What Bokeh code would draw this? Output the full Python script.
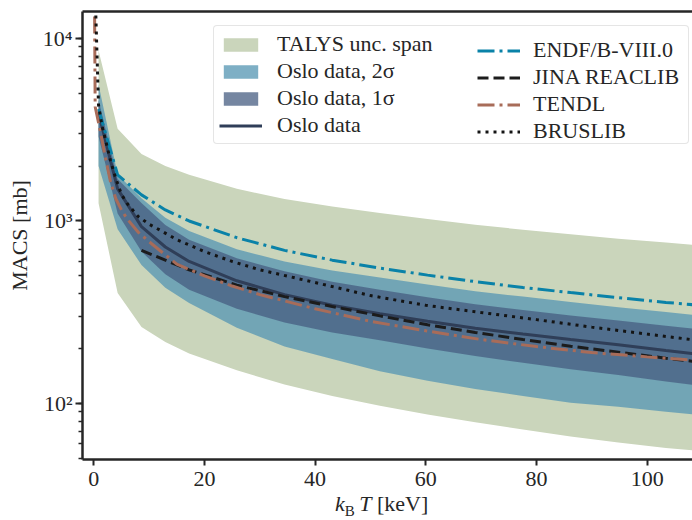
from bokeh.plotting import figure
from bokeh.layouts import column
from bokeh.models import (Range1d, FixedTicker, LinearAxis, Legend, LegendItem, Div)
from bokeh.embed import file_html
from bokeh.resources import INLINE

# Temperature grid (kT in keV, T9 = 0.01 ... 1.3)
kT = [0.862, 4.31, 8.62, 12.93, 17.23, 25.85, 34.47, 43.09, 51.70, 60.32,
      68.94, 77.56, 86.17, 94.79, 103.4, 112.0]

# TALYS uncertainty span [mb]
talys_hi = [8600, 3200, 2330, 2000, 1790, 1500, 1320, 1200, 1105, 1025, 955, 895, 845, 800, 762, 725]
talys_lo = [1250, 403, 262, 217, 188, 152, 127, 110, 97, 87, 79, 72, 66, 61, 57, 54]

# Oslo data with 1 and 2 sigma bands [mb]
oslo = [3900, 1500, 931, 720, 600, 470, 395, 345, 310, 282, 258, 240, 224, 210, 195, 182]
oslo_1s_hi = [4600, 1700, 1255, 950, 790, 625, 530, 465, 420, 382, 350, 325, 303, 285, 267, 250]
oslo_1s_lo = [2900, 1100, 680, 510, 420, 330, 278, 245, 222, 200, 182, 167, 154, 143, 132, 122]
oslo_2s_hi = [5600, 1800, 1331, 1040, 880, 700, 600, 535, 490, 448, 412, 385, 360, 337, 317, 297]
oslo_2s_lo = [2000, 900, 574, 430, 355, 260, 205, 175, 150, 133, 120, 110, 101, 96, 90, 85]

# Evaluated libraries [mb]
endf = [4100, 1790, 1390, 1150, 1000, 810, 690, 610, 552, 505, 465, 432, 405, 380, 358, 340]

jina_kT = kT[2:]
jina = [690, 610, 540, 445, 385, 340, 302, 270, 245, 224, 206, 191, 177, 165]

tendl_kT = [0.01, 0.25, 1, 2, 3, 4, 5, 6, 8, 10, 15, 20, 25, 30, 40, 50, 60, 70, 80, 90, 100, 110]
tendl = [60000, 4230, 3300, 2300, 1650, 1320, 1150, 1030, 870, 770, 580, 500, 440, 395, 330,
         282, 250, 224, 205, 190, 180, 171]

brus_kT = [0.2, 0.85, 1.5, 2, 3, 4, 5, 6, 8, 10, 12, 15, 20, 25, 30, 40, 50, 60, 70, 80, 90, 100, 110]
brus = [20000, 4330, 3300, 2880, 2150, 1700, 1400, 1250, 1060, 960, 890, 790, 680, 600, 540,
        460, 390, 345, 315, 288, 262, 240, 220]

SERIF = "Liberation Serif"
INK = "#262626"
LABEL_H = 27  # height of the strip holding the x-axis title

p = figure(width=692, height=520 - LABEL_H, x_range=Range1d(-2.04, 108.2),
           y_range=Range1d(49.3, 14060),
           y_axis_type="log", output_backend="svg", toolbar_location=None,
           min_border_left=82, min_border_right=0, min_border_top=11,
           min_border_bottom=34, margin=(0, 0, 0, 0))
p.outline_line_color = None
p.xgrid.visible = False
p.ygrid.visible = False
p.background_fill_color = "white"
p.border_fill_color = "white"

r_talys = p.varea(x=kT, y1=talys_lo, y2=talys_hi, fill_color="#cad5bb", fill_alpha=1.0)
r_2s = p.varea(x=kT, y1=oslo_2s_lo, y2=oslo_2s_hi, fill_color="#5797b4", fill_alpha=0.77)
r_1s = p.varea(x=kT, y1=oslo_1s_lo, y2=oslo_1s_hi, fill_color="#475d82", fill_alpha=0.75)
r_oslo = p.line(kT, oslo, line_color="#2f3e58", line_width=3)
r_endf = p.line(kT, endf, line_color="#0a82a8", line_width=3, line_dash="17 5 3 5")
r_jina = p.line(jina_kT, jina, line_color="#1c1c1c", line_width=3, line_dash="11 5")
r_tendl = p.line(tendl_kT, tendl, line_color="#a86c59", line_width=3, line_dash="17 5 3 5")
r_brus = p.line(brus_kT, brus, line_color="#141414", line_width=3, line_dash="3 5")

# axes
for ax in (p.xaxis[0], p.yaxis[0]):
    ax.axis_line_color = INK
    ax.axis_line_width = 2.5
    ax.major_tick_line_color = INK
    ax.major_tick_line_width = 2
    ax.major_tick_in = 0
    ax.minor_tick_in = 0
    ax.major_label_text_font = SERIF
    ax.major_label_text_font_size = "22px"
    ax.major_label_text_color = INK

p.xaxis.ticker = FixedTicker(ticks=[0, 20, 40, 60, 80, 100])
p.xaxis.major_tick_out = 6
p.xaxis.minor_tick_line_color = None
p.xaxis.major_label_standoff = 6

p.yaxis.major_tick_out = 7
p.yaxis.minor_tick_out = 4
p.yaxis.minor_tick_line_color = INK
p.yaxis.minor_tick_line_width = 1.5
p.yaxis.major_label_standoff = 3
p.yaxis.major_label_overrides = {100: "10²", 1000: "10³", 10000: "10⁴"}
p.yaxis.axis_label = "MACS [mb]"
p.yaxis.axis_label_text_font = SERIF
p.yaxis.axis_label_text_font_size = "22px"
p.yaxis.axis_label_text_font_style = "normal"
p.yaxis.axis_label_text_color = INK
p.yaxis.axis_label_standoff = 8

# top spine
top = LinearAxis(ticker=FixedTicker(ticks=[]), major_label_text_font_size="0px",
                 axis_line_color=INK, axis_line_width=2.5,
                 major_tick_line_color=None, minor_tick_line_color=None)
p.add_layout(top, "above")

# legend, two columns
common = dict(label_text_font=SERIF, label_text_font_size="22px", label_text_color=INK,
              glyph_width=43, glyph_height=17, label_height=22, spacing=1, padding=5,
              margin=0)
leg1 = Legend(items=[LegendItem(label="TALYS unc. span", renderers=[r_talys]),
                     LegendItem(label="Oslo data, 2σ", renderers=[r_2s]),
                     LegendItem(label="Oslo data, 1σ", renderers=[r_1s]),
                     LegendItem(label="Oslo data", renderers=[r_oslo])],
              location=(131, 315), label_standoff=15, label_width=406,
              border_line_color="#cccccc", border_line_width=1,
              background_fill_color="white", background_fill_alpha=0.8, **common)
if "border_radius" in Legend.properties():
    leg1.border_radius = 4
leg2 = Legend(items=[LegendItem(label="ENDF/B-VIII.0", renderers=[r_endf]),
                     LegendItem(label="JINA REACLIB", renderers=[r_jina]),
                     LegendItem(label="TENDL", renderers=[r_tendl]),
                     LegendItem(label="BRUSLIB", renderers=[r_brus])],
              location=(395, 315), label_standoff=13, label_width=20,
              border_line_color=None, background_fill_alpha=0.0, **common)
p.add_layout(leg1, "center")
p.add_layout(leg2, "center")

# x-axis title: k_B T [keV]
xtitle = Div(
    text='<span style="position:relative; left:335px; top:0px; white-space:nowrap">'
         '<i>k</i><sub style="font-size:15px">B</sub>&thinsp;<i>T</i> [keV]</span>',
    width=692, height=LABEL_H, margin=(0, 0, 0, 0),
    styles={"font-family": SERIF, "font-size": "22px", "color": INK,
            "line-height": "22px"})

layout = column(p, xtitle, spacing=0, margin=(0, 0, 0, 0))
open("out.html", "w").write(file_html(layout, INLINE))
